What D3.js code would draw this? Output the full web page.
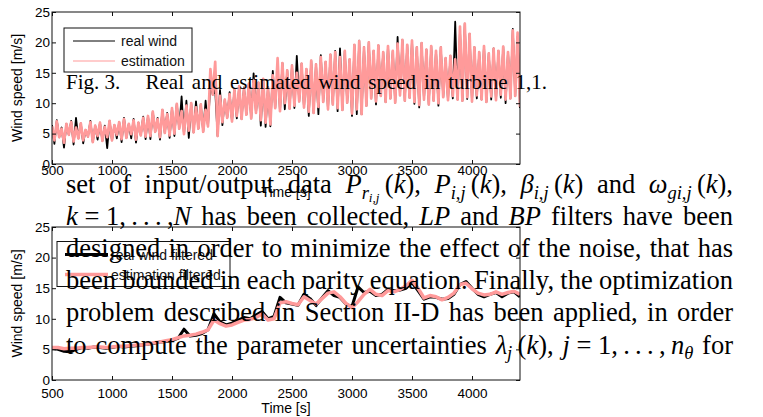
<!DOCTYPE html>
<html><head><meta charset="utf-8">
<script src="https://cdn.jsdelivr.net/npm/d3@7"></script>
<style>body{margin:0;background:#fff}svg{display:block}</style>
</head><body>
<svg id="c" width="763" height="417"></svg>
<script>
// ---------- data ----------
const timeStart = 500, timeEnd = 4400;
const rawStep = 20;      // s between raw samples
const filtStep = 50;     // s between filtered samples
const xTicks = [500, 1000, 1500, 2000, 2500, 3000, 3500, 4000];
const yTicks = [0, 5, 10, 15, 20, 25];

const realWind = [
  6.4,3.3,7.2,4.4,6.0,2.7,6.6,4.8,7.1,3.2,
  7.6,4.2,6.7,3.4,5.6,4.5,7.1,3.6,6.3,4.0,
  6.8,3.8,6.3,2.6,7.1,3.9,6.4,4.2,6.9,3.6,
  7.6,4.3,6.6,4.2,7.4,3.5,6.8,4.7,7.8,4.1,
  7.9,4.1,8.6,5.3,7.6,4.0,8.9,5.1,8.4,4.3,
  9.2,4.6,9.9,5.8,11.1,4.9,10.4,4.3,10.0,5.2,
  10.3,5.8,9.8,5.3,10.4,6.2,13.2,11.4,12.2,4.6,
  12.2,6.4,10.6,7.6,11.8,7.0,12.2,7.5,12.8,7.4,
  12.6,8.1,13.2,7.5,14.9,8.4,13.4,6.3,14.0,6.1,
  12.6,6.2,15.3,9.2,16.0,8.7,16.6,9.0,15.4,9.1,
  16.2,9.2,17.8,10.3,16.5,9.3,15.6,7.9,17.0,8.4,
  16.4,8.2,17.9,10.2,16.8,9.0,18.0,9.8,18.6,8.7,
  19.0,8.9,18.6,10.1,17.2,7.9,19.6,8.2,20.3,8.2,
  19.2,9.6,20.0,10.8,18.6,9.8,19.5,11.2,18.4,10.2,
  19.4,10.8,18.6,10.1,20.9,11.3,20.4,10.4,19.6,10.9,
  20.3,9.9,19.2,9.3,19.9,10.6,18.8,9.8,19.4,10.4,
  18.6,9.6,19.2,11.0,17.4,10.5,17.8,10.8,23.4,10.6,
  22.0,10.4,23.1,10.7,21.4,10.3,19.2,10.8,18.4,10.6,
  19.4,10.2,18.2,10.6,19.0,10.5,18.6,10.9,19.3,10.0,
  18.4,10.8,22.2,11.2,21.0,9.2
];
const estimation = [
  6.2,3.9,7.0,4.4,5.8,3.5,6.6,4.8,6.9,3.7,
  6.0,4.2,6.7,3.9,5.6,4.5,6.9,3.6,6.3,4.6,
  6.8,3.8,6.1,4.4,7.1,3.9,6.4,4.8,6.9,4.1,
  7.4,4.3,6.6,4.9,7.2,4.0,6.8,4.7,7.6,4.5,
  7.9,4.6,8.6,5.3,7.4,4.4,8.9,5.1,8.2,4.7,
  9.2,5.0,9.9,5.8,8.7,4.9,9.6,5.5,10.0,5.2,
  9.3,5.8,9.8,5.3,8.9,6.2,15.6,11.4,16.8,4.6,
  11.2,6.9,10.6,7.6,11.5,7.0,12.2,7.9,12.8,7.4,
  12.4,8.1,13.2,7.5,13.8,8.4,13.4,7.2,14.0,6.8,
  12.6,6.5,14.6,9.2,17.4,8.7,16.6,10.0,15.4,9.1,
  16.2,9.6,15.0,10.3,16.5,9.3,15.6,8.6,17.0,8.4,
  16.4,9.4,17.6,10.2,16.8,9.0,18.0,9.8,18.4,9.2,
  17.6,8.9,18.6,10.1,17.2,8.3,19.6,9.0,20.2,8.2,
  19.2,9.6,20.0,10.8,18.6,10.3,19.5,11.2,18.4,10.2,
  19.4,10.8,18.6,10.1,19.8,11.3,20.4,10.4,19.6,10.9,
  20.3,10.2,19.2,9.7,19.9,10.6,18.8,9.8,19.4,10.4,
  18.6,10.0,19.2,11.0,17.4,10.5,17.8,11.2,17.2,10.6,
  22.6,10.4,23.1,11.0,21.4,10.3,19.2,11.3,18.4,10.6,
  19.4,10.2,18.2,11.1,19.0,10.5,18.6,11.4,19.3,10.6,
  18.4,10.8,22.0,11.2,21.6,9.4
];
const realWindFiltered = [
  5.2,5.0,4.7,4.6,5.0,5.3,5.2,5.4,5.3,5.2,
  5.3,5.5,5.4,5.5,5.6,5.7,5.9,6.0,6.2,6.3,
  6.5,6.8,8.3,7.2,7.3,7.6,8.2,10.8,9.5,9.0,
  9.3,9.8,10.2,10.0,10.6,11.2,10.0,10.4,13.5,12.6,
  12.4,12.2,14.0,13.3,12.2,13.4,14.6,13.8,13.5,12.4,
  12.0,15.2,14.3,14.5,13.8,14.0,14.8,14.6,14.7,15.0,
  15.9,14.6,13.2,13.6,13.5,13.2,13.3,14.0,15.6,16.1,
  15.0,14.0,13.6,14.0,14.3,13.6,14.2,14.4,13.6
];
const estimationFiltered = [
  5.3,5.3,5.1,5.2,5.2,5.3,5.3,5.4,5.4,5.3,
  5.4,5.5,5.5,5.6,5.7,5.7,5.9,6.1,6.2,6.4,
  6.6,6.9,7.2,7.3,7.5,7.8,8.2,9.8,9.2,8.8,
  9.0,9.4,9.8,9.9,10.2,10.8,9.8,10.0,12.6,12.8,
  12.5,12.3,13.6,13.0,12.4,13.3,14.2,14.4,13.6,12.5,
  11.8,12.8,14.0,14.8,14.0,13.8,14.6,14.4,14.8,15.4,
  16.3,15.0,13.4,13.8,13.6,13.1,13.5,14.2,15.6,15.8,
  14.9,14.2,13.9,14.0,14.4,14.0,14.3,14.5,14.0
];
const legendTop = ["real wind", "estimation"];
const legendBottom = ["real wind filtered", "estimation filtered"];
const xTitle = "Time [s]";
const yTitle = "Wind speed [m/s]";
const captionLabel = "Fig. 3.";
const captionText = "Real and estimated wind speed in turbine 1,1.";
// {i:..} italic, {s:..} subscript, {ss:..} second-level subscript
const bodyLines = [
  ["set","of","input/output","data","{i:P}{s:r}{ss:i,j}\u2009({i:k}),","{i:P}{s:i,j}\u2009({i:k}),","{i:β}{s:i,j}\u2009({i:k})","and","{i:ω}{s:gi,j}\u2009({i:k}),"],
  ["{i:k} = 1,\u2009.\u2009.\u2009.\u2009,{i:N}","has","been","collected,","{i:LP}","and","{i:BP}","filters","have","been"],
  ["designed","in","order","to","minimize","the","effect","of","the","noise,","that","has"],
  ["been","bounded","in","each","parity","equation.","Finally,","the","optimization"],
  ["problem","described","in","Section","II-D","has","been","applied,","in","order"],
  ["to","compute","the","parameter","uncertainties","{i:λ}{s:j}\u2009({i:k}),","{i:j} = 1,\u2009.\u2009.\u2009.\u2009,\u2009{i:n}{s:θ}","for"]
];

// ---------- styles ----------
const BLACK = "#000", PINK = "#ff9a9a";
const SANS = "'Liberation Sans', Arial, Helvetica, sans-serif";
const SERIF = "'Liberation Serif', 'Times New Roman', Times, serif";

const svg = d3.select("#c");
const x = d3.scaleLinear().domain([timeStart, timeEnd]).range([52, 520]);
const fmt = d3.format("d");

function panel(top, bottom, series, widths, tickPad, titleY, L) {
  const y = d3.scaleLinear().domain([0, 25]).range([bottom, top]);
  const g = svg.append("g");
  const clipId = "clip" + top;
  svg.append("clipPath").attr("id", clipId).append("rect")
    .attr("x", 52).attr("y", top).attr("width", 468).attr("height", bottom - top);
  series.forEach((s, k) => {
    const line = d3.line().x((d, i) => x(timeStart + i * s.step)).y(d => y(d));
    g.append("path").attr("d", line(s.values)).attr("fill", "none")
      .attr("clip-path", `url(#${clipId})`)
      .attr("stroke", s.color).attr("stroke-width", widths[k])
      .attr("stroke-linejoin", "round");
  });
  g.append("rect").attr("x", 52).attr("y", top).attr("width", 520 - 52).attr("height", bottom - top)
    .attr("fill", "none").attr("stroke", "#111").attr("stroke-width", 1);
  const ax = (axis, tr) => {
    const a = g.append("g").attr("transform", tr).call(axis);
    a.select(".domain").remove();
    a.selectAll("line").attr("stroke", "#111");
    a.selectAll("text").attr("font-family", SANS).attr("font-size", 13.5).attr("fill", "#000");
    return a;
  };
  ax(d3.axisBottom(x).tickValues(xTicks).tickSize(-4).tickPadding(tickPad).tickFormat(fmt), `translate(0,${bottom})`);
  ax(d3.axisTop(x).tickValues(xTicks).tickSize(-4).tickFormat(""), `translate(0,${top})`);
  ax(d3.axisLeft(y).tickValues(yTicks).tickSize(-4).tickPadding(2).tickFormat(fmt), `translate(52,0)`);
  ax(d3.axisRight(y).tickValues(yTicks).tickSize(-4).tickFormat(""), `translate(520,0)`);
  g.append("text").attr("x", 286).attr("y", titleY).attr("text-anchor", "middle")
    .attr("font-family", SANS).attr("font-size", 14).text(xTitle);
  g.append("text").attr("transform", `translate(21.5,${(top + bottom) / 2}) rotate(-90)`)
    .attr("text-anchor", "middle").attr("font-family", SANS).attr("font-size", 14).text(yTitle);
  g.append("rect").attr("x", L.x).attr("y", L.y).attr("width", L.w).attr("height", L.h)
    .attr("fill", "#fff").attr("stroke", "#111").attr("stroke-width", 1);
  L.labels.forEach((lab, i) => {
    const ly = L.rowY[i];
    g.append("line").attr("x1", L.lx0).attr("x2", L.lx1).attr("y1", ly).attr("y2", ly)
      .attr("stroke", series[i].color).attr("stroke-width", L.lw[i]);
    g.append("text").attr("x", L.tx).attr("y", ly + 5).attr("font-family", SANS)
      .attr("font-size", 14).attr("fill", "#111").text(lab);
  });
}

panel(12, 164,
  [{values: realWind, step: rawStep, color: BLACK}, {values: estimation, step: rawStep, color: PINK}],
  [1.8, 2.7], 1.5, 197,
  {x: 64, y: 28, w: 128, h: 44, lx0: 73, lx1: 115, tx: 121, rowY: [41, 61], lw: [1, 1.2], labels: legendTop});

panel(227, 380,
  [{values: realWindFiltered, step: filtStep, color: BLACK}, {values: estimationFiltered, step: filtStep, color: PINK}],
  [3, 3.5], 8.5, 413,
  {x: 57, y: 241.5, w: 173, h: 45, lx0: 65, lx1: 108, tx: 111, rowY: [254.5, 274.5], lw: [3, 3.5], labels: legendBottom});

// ---------- overlaid paper text ----------
const tg = svg.append("g").attr("font-family", SERIF).attr("fill", "#000");
const runStyle = {n: [1, 0, "normal"], i: [1, 0, "italic"], s: [0.7, 0.22, "italic"], ss: [0.5, 0.36, "italic"]};
function addRuns(t, token, size) {
  const re = /\{(\w+):([^}]*)\}|([^{]+)/g;
  let m, cur = 0;
  while ((m = re.exec(token))) {
    const st = runStyle[m[1] || "n"], str = m[1] ? m[2] : m[3];
    const shift = st[1] * size;
    t.append("tspan").attr("font-size", st[0] * size).attr("font-style", st[2])
      .attr("dy", shift - cur).text(str);
    cur = shift;
  }
}
function justify(tokens, x0, x1, y, size) {
  const nodes = tokens.map(tok => {
    const t = tg.append("text").attr("y", y).attr("font-size", size).style("white-space", "pre");
    addRuns(t, tok, size);
    return t;
  });
  const widths = nodes.map(n => n.node().getComputedTextLength());
  const gap = (x1 - x0 - d3.sum(widths)) / Math.max(1, tokens.length - 1);
  let cx = x0;
  nodes.forEach((n, i) => { n.attr("x", cx); cx += widths[i] + gap; });
}
const capSize = 21;
tg.append("text").attr("x", 66).attr("y", 88.5).attr("font-size", capSize).text(captionLabel);
justify(captionText.split(" "), 145.5, 547, 88.5, capSize);

const bodySize = 26.5, bodyTop = 192.8, lead = 32.15;
bodyLines.forEach((ln, i) => justify(ln, 66, 733, bodyTop + i * lead, bodySize));
</script>
</body></html>
